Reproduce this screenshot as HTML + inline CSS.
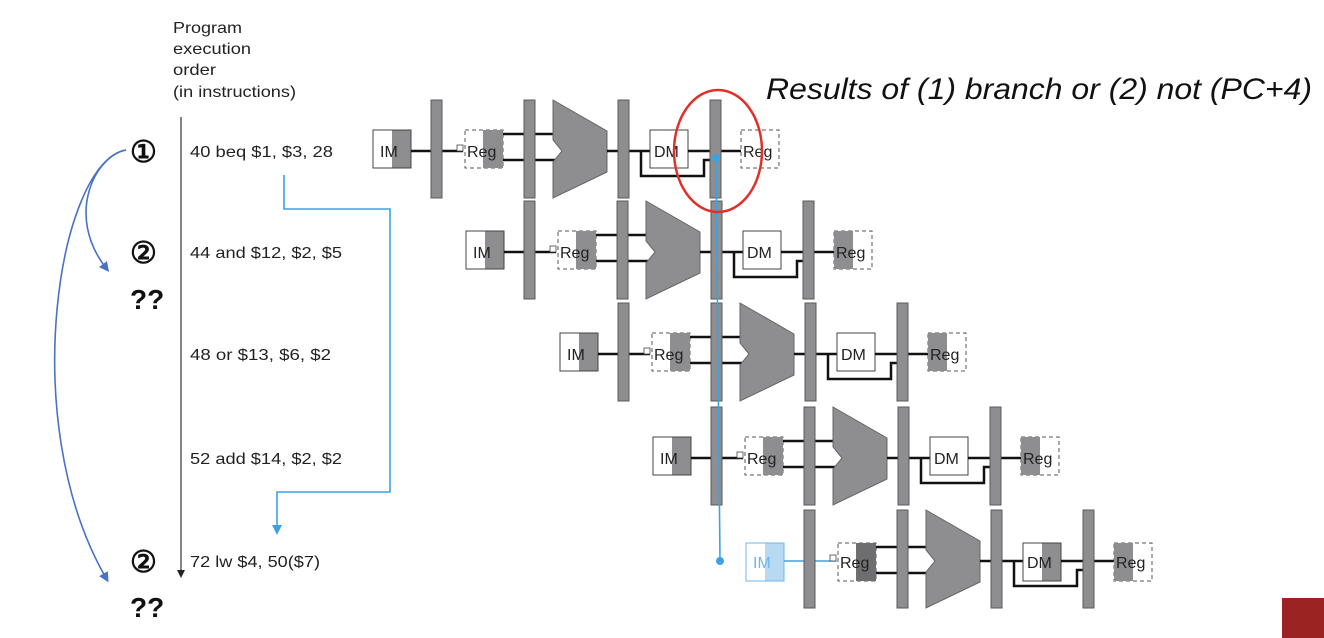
<!DOCTYPE html>
<html><head><meta charset="utf-8"><style>
html,body{margin:0;padding:0;background:#fff;}
svg{display:block;font-family:"Liberation Sans",Arial,sans-serif;}
.b{fill:#8e8e91;stroke:#5a5a5a;stroke-width:1}
.w{stroke:#111;stroke-width:2.5;fill:none}
.box{fill:#fff;stroke:#444;stroke-width:1}
.dbox{fill:#fff;stroke:#555;stroke-width:1;stroke-dasharray:4,3}
.g{fill:#8e8e91}
.t{font-size:16px;fill:#222}
</style></head><body>
<svg width="1324" height="638" viewBox="0 0 1324 638">
<defs>
<marker id="ab" markerWidth="10" markerHeight="10" refX="5" refY="5" orient="auto" markerUnits="userSpaceOnUse"><path d="M0,0 L10,5 L0,10 z" fill="#4a72c4"/></marker>
<marker id="al" markerWidth="10" markerHeight="10" refX="5" refY="5" orient="auto" markerUnits="userSpaceOnUse"><path d="M0,0 L10,5 L0,10 z" fill="#3fa2e0"/></marker>
<marker id="ak" markerWidth="8" markerHeight="8" refX="4" refY="4" orient="auto" markerUnits="userSpaceOnUse"><path d="M0,0 L8,4 L0,8 z" fill="#222"/></marker>
</defs>

<!-- left labels -->
<text x="173" y="33" class="t" textLength="69" lengthAdjust="spacingAndGlyphs">Program</text>
<text x="173" y="54" class="t" textLength="78" lengthAdjust="spacingAndGlyphs">execution</text>
<text x="173" y="75" class="t" textLength="43" lengthAdjust="spacingAndGlyphs">order</text>
<text x="173" y="97" class="t" textLength="123" lengthAdjust="spacingAndGlyphs">(in instructions)</text>
<line x1="181" y1="117" x2="181" y2="574" stroke="#333" stroke-width="1.2" marker-end="url(#ak)"/>
<text x="190" y="157" class="t" textLength="143" lengthAdjust="spacingAndGlyphs">40 beq $1, $3, 28</text>
<text x="190" y="258" class="t" textLength="152" lengthAdjust="spacingAndGlyphs">44 and $12, $2, $5</text>
<text x="190" y="360" class="t" textLength="141" lengthAdjust="spacingAndGlyphs">48 or $13, $6, $2</text>
<text x="190" y="464" class="t" textLength="152" lengthAdjust="spacingAndGlyphs">52 add $14, $2, $2</text>
<text x="190" y="567" class="t" textLength="130" lengthAdjust="spacingAndGlyphs">72 lw $4, 50($7)</text>

<text x="130" y="162" font-size="30" font-weight="bold" fill="#111">①</text>
<text x="130" y="263" font-size="30" font-weight="bold" fill="#111">②</text>
<text x="130" y="309" font-size="28" font-weight="bold" fill="#111">??</text>
<text x="130" y="572" font-size="30" font-weight="bold" fill="#111">②</text>
<text x="130" y="617" font-size="28" font-weight="bold" fill="#111">??</text>

<path d="M126,150 C95,156 65,215 106,268" stroke="#4a72c4" stroke-width="1.6" fill="none" marker-end="url(#ab)"/>
<path d="M126,150 C60,160 15,420 106,578" stroke="#4a72c4" stroke-width="1.6" fill="none" marker-end="url(#ab)"/>

<!-- blue branch line -->
<polyline points="284,175 284,209 390,209 390,492 277,492 277,530" stroke="#3fa2e0" stroke-width="1.6" fill="none" marker-end="url(#al)"/>

<text x="766" y="99" font-size="30" font-style="italic" fill="#111" textLength="546" lengthAdjust="spacingAndGlyphs">Results of (1) branch or (2) not (PC+4)</text>

<!-- ROW 1 -->
<g transform="translate(0,0)">
<rect x="373" y="130" width="38" height="38" class="box"/><rect x="392" y="130.5" width="18.5" height="37" class="g"/>
<text x="380" y="157" font-size="16" fill="#222">IM</text>
<line x1="411" y1="151" x2="463" y2="151" class="w"/>
<rect x="431" y="100" width="11" height="98" class="b"/>
<rect x="457" y="145" width="6" height="6" fill="#fff" stroke="#444" stroke-width="0.8"/>
<rect x="465" y="130" width="38" height="38" class="dbox"/><rect x="483" y="130" width="20" height="38" class="g"/>
<text x="467" y="157" font-size="16" fill="#222">Reg</text>
<line x1="503" y1="134" x2="555" y2="134" class="w"/><line x1="503" y1="160" x2="555" y2="160" class="w"/>
<rect x="524" y="100" width="11" height="98" class="b"/>
<polygon points="553,100 607,131 607,172 553,198 553,162 562,151 553,140" class="g" stroke="#666"/>
<line x1="607" y1="151" x2="650" y2="151" class="w"/>
<rect x="618" y="100" width="11" height="98" class="b"/>
<polyline points="641,151 641,176 704,176 704,160 712,160" class="w"/>
<rect x="650" y="130" width="38" height="38" class="box"/>
<text x="654" y="157" font-size="16" fill="#222">DM</text>
<line x1="688" y1="151" x2="741" y2="151" class="w"/>
<rect x="710" y="100" width="11" height="98" class="b"/>
<rect x="741" y="130" width="38" height="38" class="dbox"/>
<text x="743" y="157" font-size="16" fill="#222">Reg</text>
</g>

<!-- ROW 2 -->
<g transform="translate(93,101)">
<rect x="373" y="130" width="38" height="38" class="box"/><rect x="392" y="130.5" width="18.5" height="37" class="g"/>
<text x="380" y="157" font-size="16" fill="#222">IM</text>
<line x1="411" y1="151" x2="463" y2="151" class="w"/>
<rect x="431" y="100" width="11" height="98" class="b"/>
<rect x="457" y="145" width="6" height="6" fill="#fff" stroke="#444" stroke-width="0.8"/>
<rect x="465" y="130" width="38" height="38" class="dbox"/><rect x="483" y="130" width="20" height="38" class="g"/>
<text x="467" y="157" font-size="16" fill="#222">Reg</text>
<line x1="503" y1="134" x2="555" y2="134" class="w"/><line x1="503" y1="160" x2="555" y2="160" class="w"/>
<rect x="524" y="100" width="11" height="98" class="b"/>
<polygon points="553,100 607,131 607,172 553,198 553,162 562,151 553,140" class="g" stroke="#666"/>
<line x1="607" y1="151" x2="650" y2="151" class="w"/>
<rect x="618" y="100" width="11" height="98" class="b"/>
<polyline points="641,151 641,176 704,176 704,160 712,160" class="w"/>
<rect x="650" y="130" width="38" height="38" class="box"/>
<text x="654" y="157" font-size="16" fill="#222">DM</text>
<line x1="688" y1="151" x2="741" y2="151" class="w"/>
<rect x="710" y="100" width="11" height="98" class="b"/>
<rect x="741" y="130" width="38" height="38" class="dbox"/><rect x="741" y="130" width="19" height="38" class="g"/>
<text x="743" y="157" font-size="16" fill="#222">Reg</text>
</g>

<!-- ROW 3 -->
<g transform="translate(187,203)">
<rect x="373" y="130" width="38" height="38" class="box"/><rect x="392" y="130.5" width="18.5" height="37" class="g"/>
<text x="380" y="157" font-size="16" fill="#222">IM</text>
<line x1="411" y1="151" x2="463" y2="151" class="w"/>
<rect x="431" y="100" width="11" height="98" class="b"/>
<rect x="457" y="145" width="6" height="6" fill="#fff" stroke="#444" stroke-width="0.8"/>
<rect x="465" y="130" width="38" height="38" class="dbox"/><rect x="483" y="130" width="20" height="38" class="g"/>
<text x="467" y="157" font-size="16" fill="#222">Reg</text>
<line x1="503" y1="134" x2="555" y2="134" class="w"/><line x1="503" y1="160" x2="555" y2="160" class="w"/>
<rect x="524" y="100" width="11" height="98" class="b"/>
<polygon points="553,100 607,131 607,172 553,198 553,162 562,151 553,140" class="g" stroke="#666"/>
<line x1="607" y1="151" x2="650" y2="151" class="w"/>
<rect x="618" y="100" width="11" height="98" class="b"/>
<polyline points="641,151 641,176 704,176 704,160 712,160" class="w"/>
<rect x="650" y="130" width="38" height="38" class="box"/>
<text x="654" y="157" font-size="16" fill="#222">DM</text>
<line x1="688" y1="151" x2="741" y2="151" class="w"/>
<rect x="710" y="100" width="11" height="98" class="b"/>
<rect x="741" y="130" width="38" height="38" class="dbox"/><rect x="741" y="130" width="19" height="38" class="g"/>
<text x="743" y="157" font-size="16" fill="#222">Reg</text>
</g>

<!-- ROW 4 -->
<g transform="translate(280,307)">
<rect x="373" y="130" width="38" height="38" class="box"/><rect x="392" y="130.5" width="18.5" height="37" class="g"/>
<text x="380" y="157" font-size="16" fill="#222">IM</text>
<line x1="411" y1="151" x2="463" y2="151" class="w"/>
<rect x="431" y="100" width="11" height="98" class="b"/>
<rect x="457" y="145" width="6" height="6" fill="#fff" stroke="#444" stroke-width="0.8"/>
<rect x="465" y="130" width="38" height="38" class="dbox"/><rect x="483" y="130" width="20" height="38" class="g"/>
<text x="467" y="157" font-size="16" fill="#222">Reg</text>
<line x1="503" y1="134" x2="555" y2="134" class="w"/><line x1="503" y1="160" x2="555" y2="160" class="w"/>
<rect x="524" y="100" width="11" height="98" class="b"/>
<polygon points="553,100 607,131 607,172 553,198 553,162 562,151 553,140" class="g" stroke="#666"/>
<line x1="607" y1="151" x2="650" y2="151" class="w"/>
<rect x="618" y="100" width="11" height="98" class="b"/>
<polyline points="641,151 641,176 704,176 704,160 712,160" class="w"/>
<rect x="650" y="130" width="38" height="38" class="box"/>
<text x="654" y="157" font-size="16" fill="#222">DM</text>
<line x1="688" y1="151" x2="741" y2="151" class="w"/>
<rect x="710" y="100" width="11" height="98" class="b"/>
<rect x="741" y="130" width="38" height="38" class="dbox"/><rect x="741" y="130" width="19" height="38" class="g"/>
<text x="743" y="157" font-size="16" fill="#222">Reg</text>
</g>

<!-- ROW 5 -->
<g transform="translate(373,410)">
<rect x="373" y="133" width="38" height="38" fill="#fff" stroke="#6cb8ea" stroke-width="1"/><rect x="392" y="133.5" width="18.5" height="37" fill="#b8d9f2"/>
<text x="380" y="158" font-size="16" fill="#6cb8ea">IM</text>
<line x1="411" y1="151" x2="463" y2="151" stroke="#3fa2e0" stroke-width="1.6"/>
<rect x="431" y="100" width="11" height="98" class="b"/>
<rect x="457" y="145" width="6" height="6" fill="#fff" stroke="#444" stroke-width="0.8"/>
<rect x="465" y="133" width="38" height="38" class="dbox"/><rect x="483" y="133" width="20" height="38" fill="#6e6e70"/>
<text x="467" y="158" font-size="16" fill="#222">Reg</text>
<line x1="503" y1="137" x2="555" y2="137" class="w"/><line x1="503" y1="163" x2="555" y2="163" class="w"/>
<rect x="524" y="100" width="11" height="98" class="b"/>
<polygon points="553,100 607,131 607,172 553,198 553,162 562,151 553,140" class="g" stroke="#666"/>
<line x1="607" y1="151" x2="650" y2="151" class="w"/>
<rect x="618" y="100" width="11" height="98" class="b"/>
<polyline points="641,151 641,176 704,176 704,160 712,160" class="w"/>
<rect x="650" y="133" width="38" height="38" class="box"/><rect x="669" y="133.5" width="18.5" height="37" class="g"/>
<text x="654" y="158" font-size="16" fill="#222">DM</text>
<line x1="688" y1="151" x2="741" y2="151" class="w"/>
<rect x="710" y="100" width="11" height="98" class="b"/>
<rect x="741" y="133" width="38" height="38" class="dbox"/><rect x="741" y="133" width="19" height="38" class="g"/>
<text x="743" y="158" font-size="16" fill="#222">Reg</text>
</g>

<!-- blue vertical from row1 bar4 -->
<line x1="716" y1="158" x2="720" y2="561" stroke="#3fa2e0" stroke-width="1.6"/>
<circle cx="716" cy="158" r="4" fill="#3fa2e0"/>
<circle cx="720" cy="561" r="4" fill="#3fa2e0"/>

<!-- red ellipse -->
<ellipse cx="718" cy="151" rx="44" ry="61" fill="none" stroke="#e0302a" stroke-width="2.5"/>

<rect x="1282" y="598" width="42" height="40" fill="#9b2322"/>
</svg>
</body></html>
